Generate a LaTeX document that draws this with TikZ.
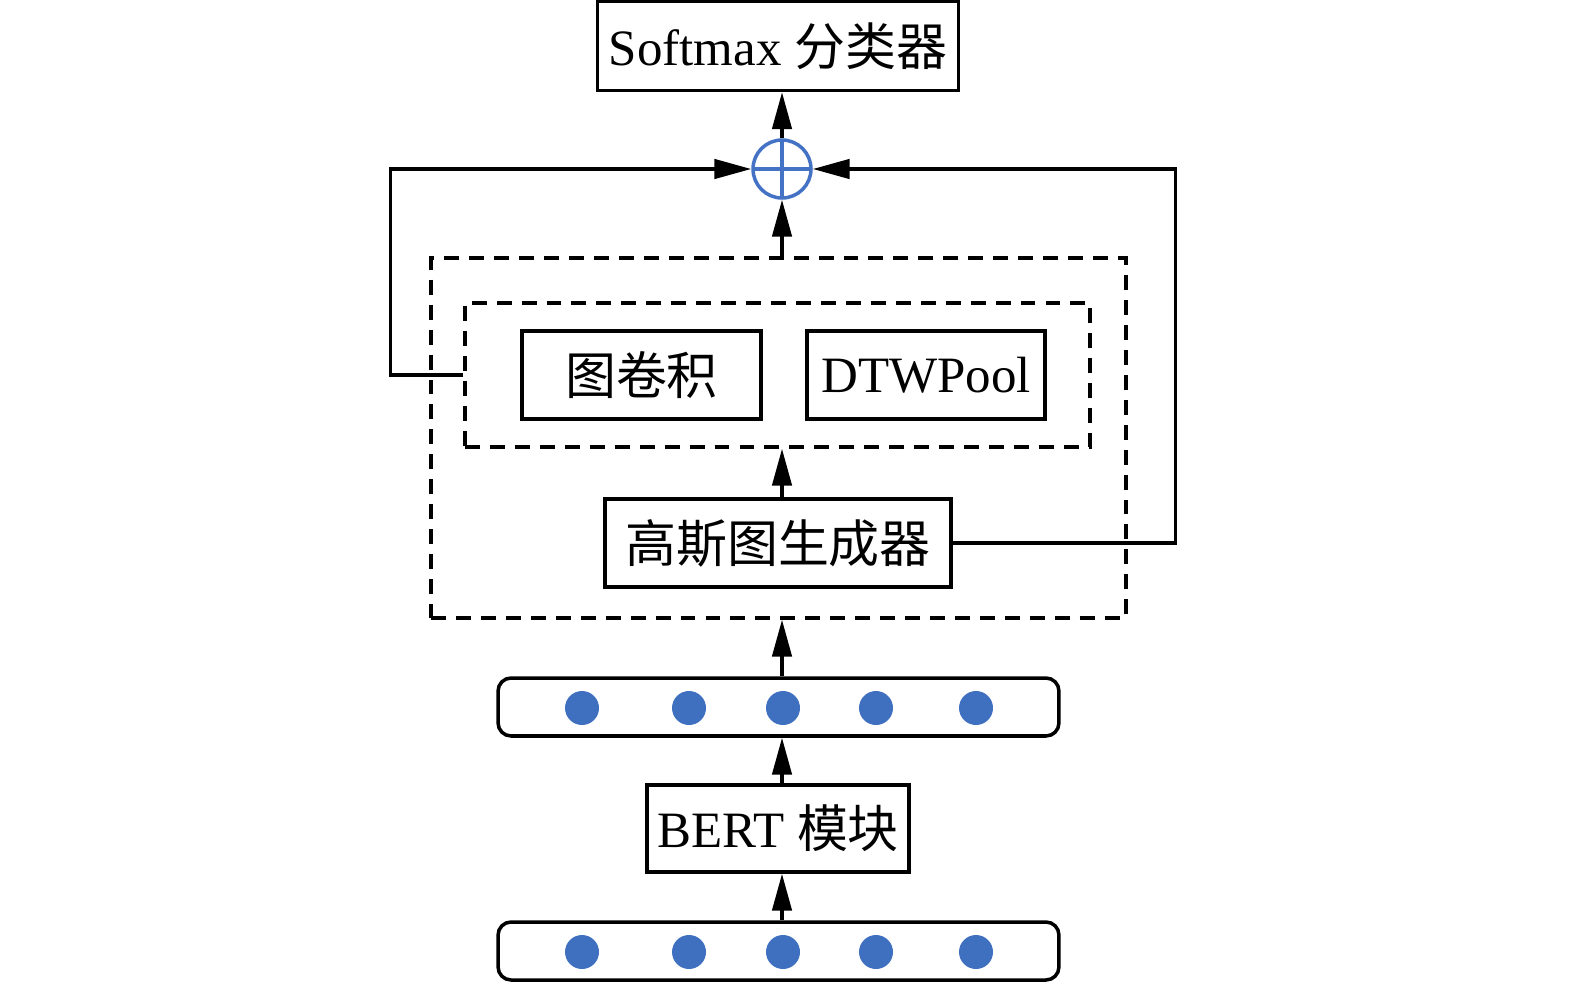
\documentclass[tikz,border=0pt]{standalone}
\usepackage{fontspec}
\setmainfont{Liberation Serif}
\newfontfamily\cjk{Noto Sans CJK SC}
\usepackage{tikz}
\usetikzlibrary{arrows.meta}
\definecolor{myblue}{HTML}{4472C4}
\definecolor{dotblue}{HTML}{3F70C0}
\tikzset{
  box/.style={draw, line width=2pt, inner sep=0pt, minimum height=1.76cm},
  dashbox/.style={draw, line width=2pt, dash pattern=on 8.5pt off 5.7pt, inner sep=0pt},
  bar/.style={draw, line width=2pt, rounded corners=0.26cm, minimum width=11.22cm, minimum height=1.16cm, inner sep=0pt},
  dot/.style={circle, fill=dotblue, minimum size=0.68cm, inner sep=0pt},
  arr/.style={-{Triangle[length=21pt,width=11pt]}, line width=2pt},
  line/.style={line width=2pt}
}
\begin{document}
\begin{tikzpicture}[x=0.02cm, y=-0.02cm]
\fontsize{29}{35}\selectfont
\useasboundingbox (0,0) rectangle (1575,987);
\node[box, minimum width=7.22cm, minimum height=1.78cm] (softmax) at (778,46) {Softmax {\cjk 分类器}};
\node[circle, draw=myblue, line width=2pt, minimum size=1.16cm, inner sep=0pt,
  path picture={\draw[myblue, line width=2pt] (path picture bounding box.north) -- (path picture bounding box.south)
  (path picture bounding box.west) -- (path picture bounding box.east);}] (sum) at (782,169) {};
\node[dashbox, minimum width=13.9cm, minimum height=7.2cm] (outer) at (778.5,438) {};
\node[dashbox, minimum width=12.5cm, minimum height=2.88cm] (inner) at (777.5,375) {};
\node[box, minimum width=4.78cm] (gcn) at (641.5,375) {\cjk 图卷积};
\node[box, minimum width=4.76cm] (pool) at (926,375) {DTWPool};
\node[box, minimum width=6.92cm] (gauss) at (778,543) {\cjk 高斯图生成器};
\node[bar] (top) at (778.5,707) {};
\node[box, minimum width=5.24cm, minimum height=1.74cm] (bert) at (778,828.5) {BERT {\cjk 模块}};
\node[bar] (bottom) at (778.5,951) {};
\foreach \x [count=\i] in {582,689,783,876,976} {
  \node[dot] (t\i) at (\x,708) {};
  \node[dot] (b\i) at (\x,952) {};
}
\draw[arr] (bottom.north -| sum) -- (bert.south -| sum);
\draw[arr] (bert.north -| sum) -- (top.south -| sum);
\draw[arr] (top.north -| sum) -- (outer.south -| sum);
\draw[arr] (gauss.north -| sum) -- (inner.south -| sum);
\draw[arr] (outer.north -| sum) -- (sum.south);
\draw[arr] (sum.north) -- (softmax.south -| sum);
\draw[arr] (inner.west) -- ++(-73,0) |- (sum.west); % feedback from graph block
\draw[arr] (gauss.east) -- ++(223,0) |- (sum.east);
\end{tikzpicture}
\end{document}
